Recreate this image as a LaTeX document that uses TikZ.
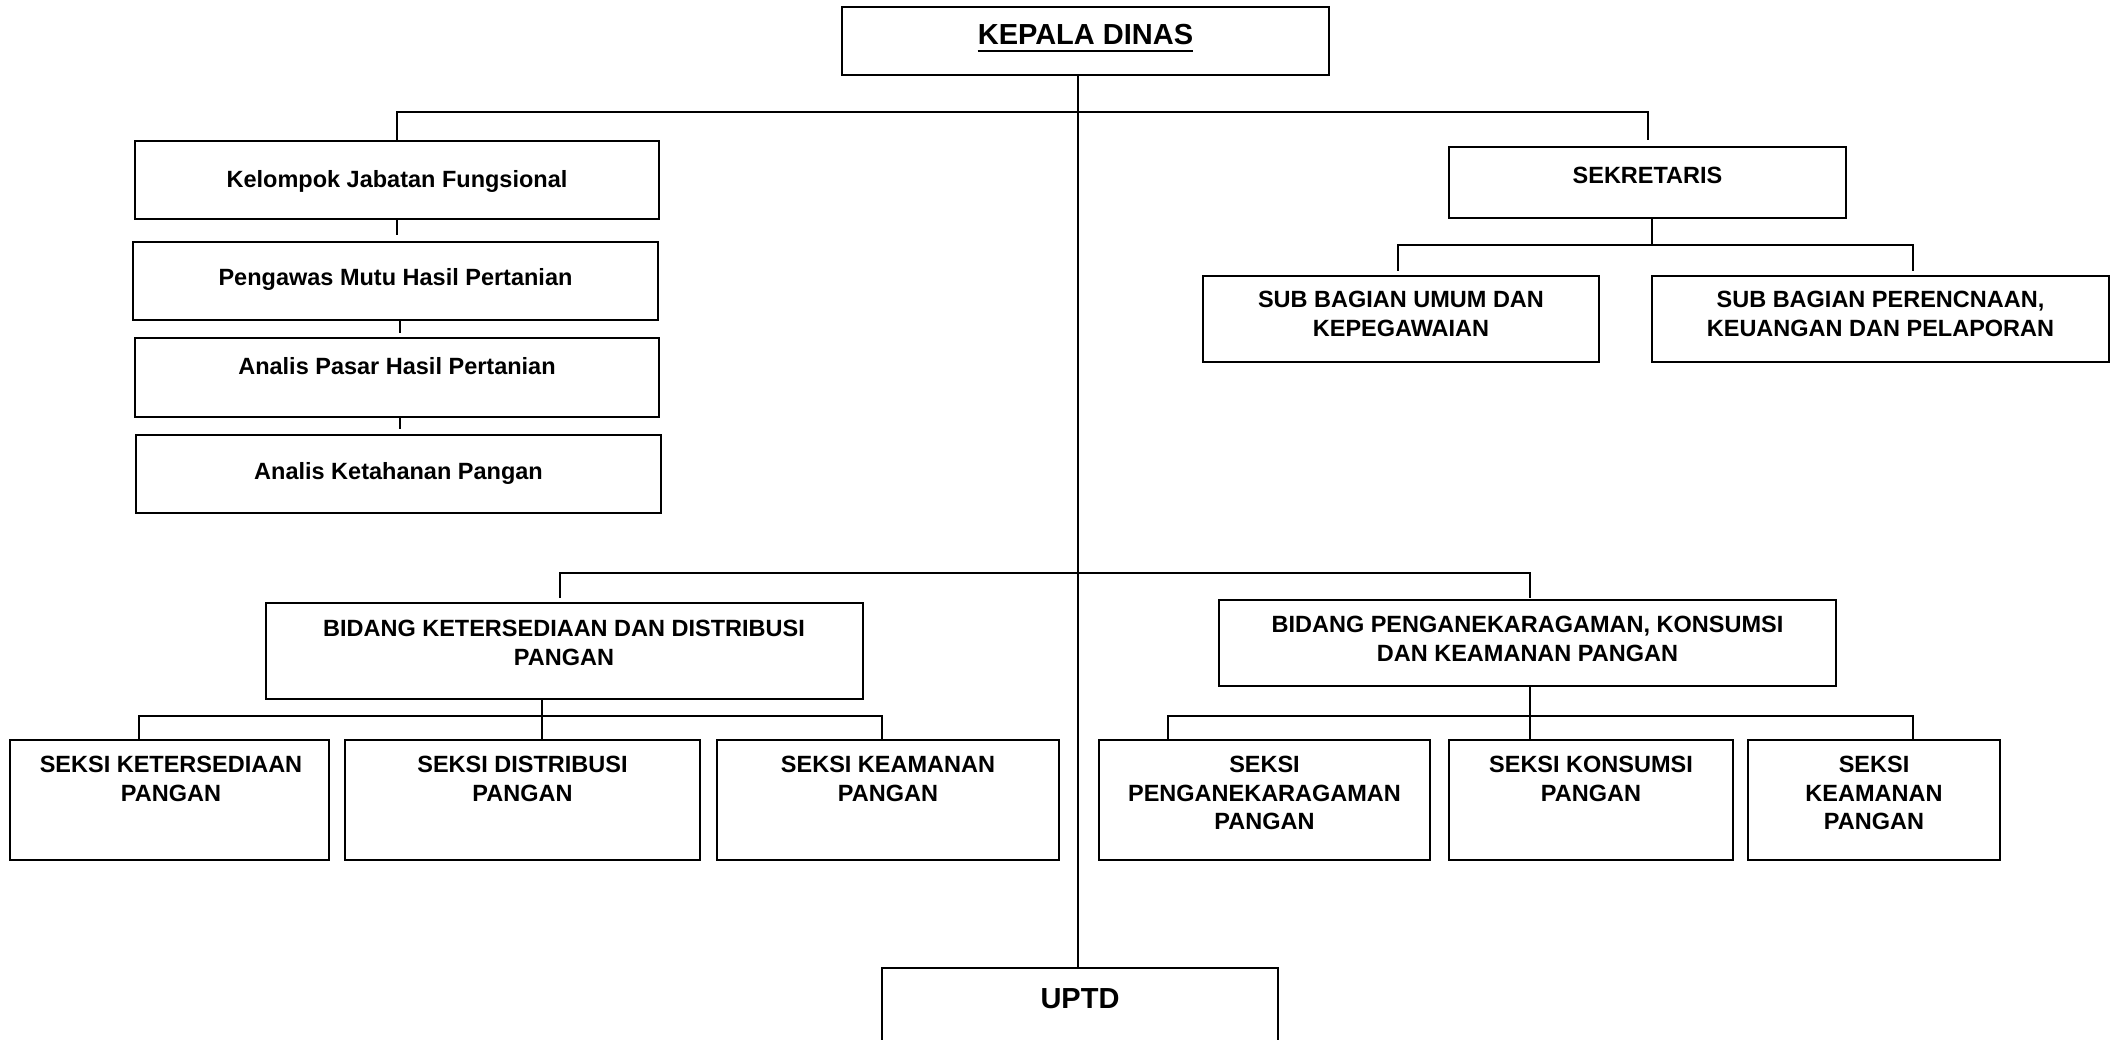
\documentclass[tikz,border=0pt]{standalone}
\usepackage{fontspec}
\setmainfont{Liberation Sans}
\begin{document}
\begin{tikzpicture}[x=1pt,y=-1pt,
  box/.style={draw, line width=2pt, inner sep=0pt},
  txt/.style={font=\fontsize{23.5}{28.5}\selectfont\bfseries, align=center, inner sep=0pt},
  big/.style={font=\fontsize{29}{34}\selectfont\bfseries, inner sep=0pt},
  conn/.style={line width=1.6pt}]
\useasboundingbox (0,0) rectangle (2120,1040);
\clip (0,0) rectangle (2120,1040);

% boxes
\node[box, minimum width=487pt, minimum height=68pt] (kd) at (1085.5,41) {};
\node[box, minimum width=524pt, minimum height=78pt] (kjf) at (397,180) {};
\node[box, minimum width=525pt, minimum height=78pt] (pmhp) at (395.5,281) {};
\node[box, minimum width=524pt, minimum height=78pt] (aphp) at (397,377.5) {};
\node[box, minimum width=525pt, minimum height=78pt] (akp) at (398.5,474) {};
\node[box, minimum width=397pt, minimum height=71pt] (sek) at (1647.5,182.5) {};
\node[box, minimum width=396pt, minimum height=86pt] (sbu) at (1401,319) {};
\node[box, minimum width=457pt, minimum height=86pt] (sbp) at (1880.5,319) {};
\node[box, minimum width=597pt, minimum height=96pt] (bkd) at (564.5,651) {};
\node[box, minimum width=617pt, minimum height=86pt] (bpk) at (1527.5,643) {};
\node[box, minimum width=319pt, minimum height=120pt] (s1) at (169.5,800) {};
\node[box, minimum width=355pt, minimum height=120pt] (s2) at (522.5,800) {};
\node[box, minimum width=342pt, minimum height=120pt] (s3) at (888,800) {};
\node[box, minimum width=331pt, minimum height=120pt] (s4) at (1264.5,800) {};
\node[box, minimum width=284pt, minimum height=120pt] (s5) at (1591,800) {};
\node[box, minimum width=252pt, minimum height=120pt] (s6) at (1874,800) {};
\node[box, minimum width=396pt, minimum height=122pt] (uptd) at (1080,1029) {};

% texts
\node[big, anchor=base] (kdt) at (1085.5,45) {KEPALA DINAS};
\draw[line width=2.2pt] ([yshift=-6pt]kdt.base west) -- ([yshift=-6pt]kdt.base east);
\node[txt, anchor=base] (kjft) at (397,188) {Kelompok Jabatan Fungsional};
\node[txt, anchor=base] (pmhpt) at (395.5,286) {Pengawas Mutu Hasil Pertanian};
\node[txt, anchor=base] (aphpt) at (397,374) {Analis Pasar Hasil Pertanian};
\node[txt, anchor=base] (akpt) at (398.5,479) {Analis Ketahanan Pangan};
\node[txt, anchor=base] (sekt) at (1647.5,184) {SEKRETARIS};
\node[txt, anchor=north] (sbut) at (1401,291) {SUB BAGIAN UMUM DAN\\KEPEGAWAIAN};
\node[txt, anchor=north] (sbpt) at (1880.5,291) {SUB BAGIAN PERENCNAAN,\\KEUANGAN DAN PELAPORAN};
\node[txt, anchor=north] (bkdt) at (564,620) {BIDANG KETERSEDIAAN DAN DISTRIBUSI\\PANGAN};
\node[txt, anchor=north] (bpkt) at (1527.5,616) {BIDANG PENGANEKARAGAMAN, KONSUMSI\\DAN KEAMANAN PANGAN};
\node[txt, anchor=north] (s1t) at (171,756) {SEKSI KETERSEDIAAN\\PANGAN};
\node[txt, anchor=north] (s2t) at (522.5,756) {SEKSI DISTRIBUSI\\PANGAN};
\node[txt, anchor=north] (s3t) at (888,756) {SEKSI KEAMANAN\\PANGAN};
\node[txt, anchor=north] (s4t) at (1264.5,756) {SEKSI\\PENGANEKARAGAMAN\\PANGAN};
\node[txt, anchor=north] (s5t) at (1591,756) {SEKSI KONSUMSI\\PANGAN};
\node[txt, anchor=north] (s6t) at (1874,756) {SEKSI\\KEAMANAN\\PANGAN};
\node[big, anchor=base] (uptdt) at (1080,1008) {UPTD};

% connectors
\coordinate (spine) at (1078,0);
\draw[conn] (kd.south -| spine) -- (uptd.north -| spine);

\coordinate (sekdrop) at (1648,140);
\draw[conn] (kjf.north) -- ++(0,-28) -| (sekdrop);

\coordinate (chainx) at (400,0);
\draw[conn, shorten >=6pt] (kjf.south) -- (kjf.south |- pmhp.north);
\draw[conn, shorten >=4pt] (pmhp.south -| chainx) -- (chainx |- aphp.north);
\draw[conn, shorten >=5pt] (aphp.south -| chainx) -- (chainx |- akp.north);

\coordinate (sbuL) at (1398,245);
\coordinate (sekx) at (1652,245);
\coordinate (sbpR) at (1913,245);
\draw[conn] (sek.south -| sekx) -- (sekx);
\draw[conn, shorten <=4pt, shorten >=4pt] (sbuL |- sbu.north) -- (sbuL) -- (sbpR) -- (sbpR |- sbp.north);

\coordinate (busL) at (560,573);
\coordinate (busR) at (1530,573);
\draw[conn, shorten <=4pt, shorten >=1pt] (busL |- bkd.north) -- (busL) -- (busR) -- (busR |- bpk.north);

\coordinate (k1) at (139,716);
\coordinate (k2) at (542,716);
\coordinate (k3) at (882,716);
\draw[conn] (k2 |- bkd.south) -- (k2 |- s2.north);
\draw[conn] (k1 |- s1.north) -- (k1) -- (k3) -- (k3 |- s3.north);

\coordinate (p1) at (1168,716);
\coordinate (p2) at (1530,716);
\coordinate (p3) at (1913,716);
\draw[conn] (bpk.south -| p2) -- (p2 |- s5.north);
\draw[conn] (p1 |- s4.north) -- (p1) -- (p3) -- (p3 |- s6.north);
\end{tikzpicture}
\end{document}
